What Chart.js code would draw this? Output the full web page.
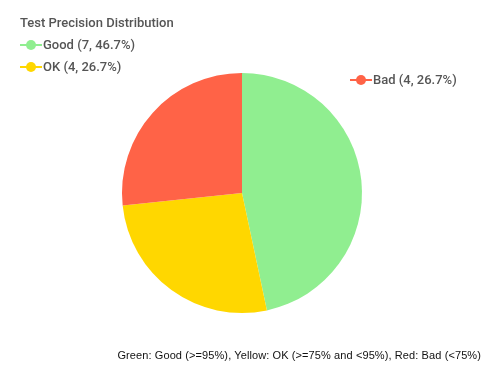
<!DOCTYPE html>
<html>
<head>
<meta charset="utf-8">
<script src="https://cdn.jsdelivr.net/npm/chart.js@4.4.0/dist/chart.umd.min.js"></script>
<style>
  html, body { margin: 0; padding: 0; background: #fff; }
  #wrap { position: relative; width: 502px; height: 389px; }
  #footer {
    position: absolute; left: 0; right: 21px; top: 349px;
    text-align: right; font-family: "Liberation Sans", Arial, sans-serif;
    font-size: 11px; color: #111; letter-spacing: 0.1px;
  }
</style>
</head>
<body>
<div id="wrap">
  <canvas id="pieChart" width="502" height="389"></canvas>
  <div id="footer">Green: Good (&gt;=95%), Yellow: OK (&gt;=75% and &lt;95%), Red: Bad (&lt;75%)</div>
</div>
<script>
// Chart data
const categories = ['Good', 'OK', 'Bad'];
const counts = [7, 4, 4];
const sliceColors = ['#90EE90', '#FFD700', '#FF6347'];
const chartTitle = 'Test Precision Distribution';

// legend placement (left column for first two, third one on the right)
const legendSpots = [
    { x: 20, y: 45 },
    { x: 20, y: 67 },
    { x: 350, y: 80 }
];

function pct(v) {
    const total = counts.reduce((a, b) => a + b, 0);
    return (v / total * 100).toFixed(1);
}

// Draw title and legend items on the canvas
const legendPlugin = {
    id: 'customLegend',
    afterDraw(chart) {
        const ctx = chart.ctx;
        ctx.save();
        ctx.textBaseline = 'middle';
        ctx.fillStyle = '#555';
        ctx.font = '500 13px Roboto';
        ctx.fillText(chartTitle, 20, 24);

        chart.data.labels.forEach((label, i) => {
            const p = legendSpots[i];
            const color = chart.data.datasets[0].backgroundColor[i];
            ctx.strokeStyle = color;
            ctx.lineWidth = 2;
            ctx.beginPath();
            ctx.moveTo(p.x, p.y);
            ctx.lineTo(p.x + 22, p.y);
            ctx.stroke();
            ctx.fillStyle = color;
            ctx.beginPath();
            ctx.arc(p.x + 11, p.y, 5, 0, Math.PI * 2);
            ctx.fill();
            ctx.fillStyle = '#555';
            ctx.fillText(`${label} (${counts[i]}, ${pct(counts[i])}%)`, p.x + 23, p.y + 1);
        });
        ctx.restore();
    }
};

const ctx = document.getElementById('pieChart').getContext('2d');
const chart = new Chart(ctx, {
    type: 'pie',
    data: {
        labels: categories,
        datasets: [{
            data: counts,
            backgroundColor: sliceColors,
            borderWidth: 0
        }]
    },
    options: {
        responsive: false,
        animation: false,
        layout: {
            padding: { top: 73, bottom: 76, left: 122, right: 140 }
        },
        plugins: {
            legend: { display: false },
            title: { display: false },
            tooltip: { enabled: false }
        }
    },
    plugins: [legendPlugin]
});
</script>
</body>
</html>
